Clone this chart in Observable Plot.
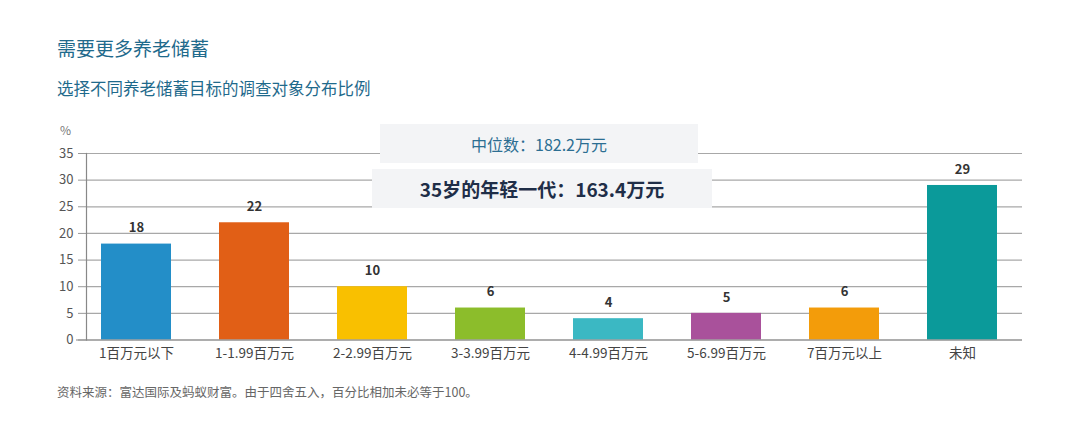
<!DOCTYPE html>
<html>
<head>
<meta charset="utf-8">
<script src="https://cdn.jsdelivr.net/npm/d3@7"></script>
<script src="https://cdn.jsdelivr.net/npm/@observablehq/plot@0.6"></script>
<style>
  html, body { margin: 0; padding: 0; background: #fff; }
  body { width: 1080px; height: 437px; overflow: hidden; font-family: "Noto Sans CJK SC", "Noto Sans", sans-serif; }
  #wrap { position: relative; width: 1080px; height: 437px; }
  .abs { position: absolute; white-space: nowrap; }
  #title { left: 57px; top: 34px; font-size: 19px; color: #1f6a8c; }
  #subtitle { left: 57px; top: 76px; font-size: 16.5px; color: #1f6a8c; }
  #unit { left: 60px; top: 121px; font-size: 12px; color: #777; }
  #chart { position: absolute; left: 0; top: 110px; }
  #foot { left: 57px; top: 382px; font-size: 12.5px; color: #666; }
  .box { position: absolute; background: #f3f4f6; display: flex; align-items: center; justify-content: center; white-space: nowrap; }
  #box1 { left: 380px; top: 124px; width: 318px; height: 39px; font-size: 16px; color: #2c6e92; }
  #box2 { left: 372px; top: 169px; width: 340px; height: 39px; font-size: 19px; font-weight: bold; color: #1f2e48; }
</style>
</head>
<body>
<div id="wrap">
  <div class="abs" id="title"></div>
  <div class="abs" id="subtitle"></div>
  <div class="abs" id="unit"></div>
  <div id="chart"></div>
  <div class="box" id="box1"></div>
  <div class="box" id="box2"></div>
  <div class="abs" id="foot"></div>
</div>
<script>
const titleText = "需要更多养老储蓄";
const subtitleText = "选择不同养老储蓄目标的调查对象分布比例";
const unitText = "%";
const medianText = "中位数：182.2万元";
const youngText = "35岁的年轻一代：163.4万元";
const footText = "资料来源：富达国际及蚂蚁财富。由于四舍五入，百分比相加未必等于100。";

const categories = ["1百万元以下", "1-1.99百万元", "2-2.99百万元", "3-3.99百万元", "4-4.99百万元", "5-6.99百万元", "7百万元以上", "未知"];
const values = [18, 22, 10, 6, 4, 5, 6, 29];
const colors = ["#238ec8", "#e15f16", "#f9c000", "#8cbd2b", "#3bb8c3", "#a9519b", "#f39c0a", "#0b9a9a"];
const yTicks = [0, 5, 10, 15, 20, 25, 30, 35];

document.getElementById("title").textContent = titleText;
document.getElementById("subtitle").textContent = subtitleText;
document.getElementById("unit").textContent = unitText;
document.getElementById("box1").textContent = medianText;
document.getElementById("box2").textContent = youngText;
document.getElementById("foot").textContent = footText;

const data = categories.map((c, i) => ({cat: c, value: values[i], color: colors[i]}));

const chart = Plot.plot({
  width: 1080,
  height: 265,
  marginLeft: 86,
  marginRight: 58,
  marginTop: 43,
  marginBottom: 35.5,
  style: {fontFamily: "'Noto Sans CJK SC', 'Noto Sans', sans-serif", background: "transparent"},
  x: {domain: categories, paddingInner: 0.41, paddingOuter: 0.157, align: 0.377, label: null},
  y: {domain: [0, 35], label: null},
  marks: [
    Plot.gridY(yTicks, {stroke: "#a8a8a8", strokeOpacity: 1, strokeWidth: 1.2}),
    Plot.axisY(yTicks, {tickSize: 8, tickPadding: 5, stroke: "#999", fontSize: 13, fill: "#555", label: null}),
    Plot.axisX({tickSize: 0, tickPadding: 8, fontSize: 13.5, fill: "#444", label: null}),
    Plot.barY(data, {x: "cat", y: "value", fill: "color"}),
    Plot.ruleY([0], {stroke: "#888", strokeWidth: 1.2, insetLeft: -10}),
    Plot.frame({anchor: "left", stroke: "#888", strokeWidth: 1.2}),
    Plot.text(data, {x: "cat", y: "value", text: d => String(d.value), dy: -16, fontSize: 13, fontWeight: "bold", fill: "#333"})
  ]
});
document.getElementById("chart").appendChild(chart);
</script>
</body>
</html>
